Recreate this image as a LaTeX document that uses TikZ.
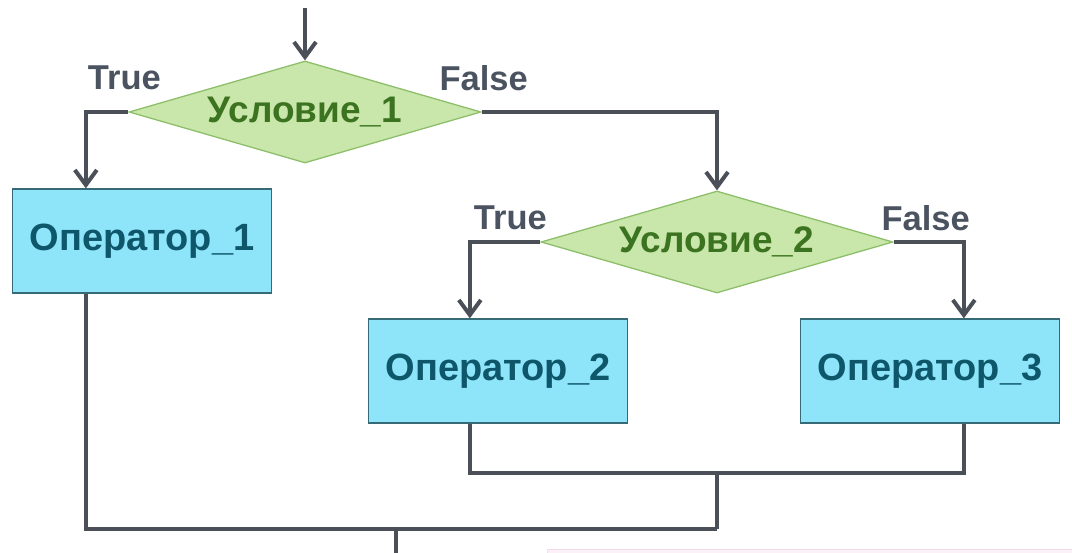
\documentclass[tikz,border=0pt]{standalone}
\usepackage{fontspec}
\setmainfont{Liberation Sans}
\usetikzlibrary{shapes.geometric,arrows.meta,calc}

\definecolor{linegray}{HTML}{4A4F58}
\definecolor{labelgray}{HTML}{4B5361}
\definecolor{boxfill}{HTML}{8EE5F9}
\definecolor{boxedge}{HTML}{356A76}
\definecolor{boxtext}{HTML}{0E566A}
\definecolor{condfill}{HTML}{C9E7AA}
\definecolor{condedge}{HTML}{8DBF6B}
\definecolor{condtext}{HTML}{3B7320}
\definecolor{notefill}{HTML}{FCF1F7}
\definecolor{noteedge}{HTML}{F2DCE8}

\tikzset{
  opbox/.style={rectangle, draw=boxedge, line width=1.3pt, fill=boxfill,
    minimum width=259pt, minimum height=104pt, inner sep=0pt,
    text=boxtext, font=\bfseries\fontsize{38}{40}\selectfont},
  cond/.style={diamond, draw=condedge, line width=1.3pt, fill=condfill,
    aspect=3.45, minimum width=352pt, minimum height=102pt, inner sep=0pt,
    text=condtext, font=\bfseries\fontsize{37}{39}\selectfont},
  lbl/.style={text=labelgray, inner sep=0pt, font=\bfseries\fontsize{34.5}{36}\selectfont},
  ln/.style={draw=linegray, line width=4pt},
  arr/.style={ln, -{Straight Barb[length=15pt,width=22pt]}},
}

\begin{document}
\begin{tikzpicture}[x=1pt,y=-1pt]
  \useasboundingbox (0,0) rectangle (1072,553);
  \clip (0,0) rectangle (1072,553);

  % faint strip in the lower right corner
  \fill[notefill] (547,549) rectangle (1072,560);
  \draw[noteedge, line width=0.8pt] (547,560) -- (547,549) -- (1072,549);

  % decisions and actions
  \node[cond]  (d1)  at (305,112) {Условие\_1};
  \node[cond]  (d2)  at (717,242) {Условие\_2};
  \node[opbox] (op1) at (142,241) {Оператор\_1};
  \node[opbox] (op2) at (498,371) {Оператор\_2};
  \node[opbox] (op3) at (930,371) {Оператор\_3};

  % branch labels
  \node[lbl] (t1) at ($(d1.west)+(-4,-34)$) {True};
  \node[lbl] (f1) at ($(d1.east)+(2,-34)$)  {False};
  \node[lbl] (t2) at ($(d2.west)+(-30,-24)$) {True};
  \node[lbl] (f2) at ($(d2.east)+(32,-24)$)  {False};

  % entry
  \coordinate (in) at (305,8);
  \draw[arr] (in) -- (d1.north);

  % first decision
  \draw[arr] (d1.west) -| ($(op1.north west)+(74,0)$);
  \draw[arr] (d1.east) -| (d2.north);

  % second decision
  \draw[arr] (d2.west) -| ($(op2.north west)+(102,0)$);
  \draw[arr] (d2.east) -| ($(op3.north west)+(164,0)$);

  % merging the branches
  \coordinate (m2) at (717,473);
  \coordinate (m1) at (717,529);
  \coordinate (out) at (396,560);
  \draw[ln] ($(op2.south west)+(102,0)$) |- (m2) -| ($(op3.south west)+(164,0)$);
  \draw[ln] ($(op1.south west)+(74,0)$) |- (m1);
  \draw[ln] (m2) -- (m1);
  \draw[ln] (out |- m1) -- (out);
\end{tikzpicture}
\end{document}
